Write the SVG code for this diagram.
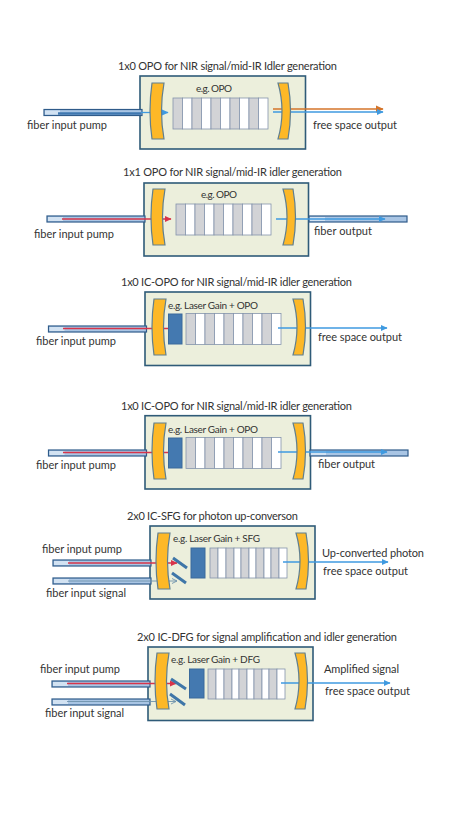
<svg xmlns="http://www.w3.org/2000/svg" width="457" height="824" viewBox="0 0 457 824">
<style>
text{font-family:"Lato","Open Sans","Liberation Sans",sans-serif;font-size:11px;fill:#333}
text.s{font-size:10px}
.box{fill:#ecefdc;stroke:#2f5b78;stroke-width:1.6}
.mir{fill:#fdb827;stroke:#5f7f90;stroke-width:1.2}
.gr{fill:#d2d3d6;stroke:#8494ac;stroke-width:.8}
.wh{fill:#fff;stroke:#8494ac;stroke-width:.8}
.gain{fill:#4479b0;stroke:#3a6a9c;stroke-width:1}
.fib{fill:#a9c5e4;stroke:#2f5b8a;stroke-width:1.2}
.fibl{fill:#d2e2f2}
.bs{stroke:#3f76a8;stroke-width:3;fill:none}
.b{stroke:#3f9ae0;stroke-width:1.3;fill:none}
.r{stroke:#d8344a;stroke-width:1.3;fill:none}
.o{stroke:#d4742a;stroke-width:1.4;fill:none}
.t{stroke:#6f93ad;stroke-width:.9;fill:none}
.band{stroke:#3f77b0;stroke-width:2.6;fill:none}
</style>
<defs>
<marker id="ab" markerWidth="6" markerHeight="6" refX="5" refY="3" orient="auto"><path d="M0 .5L5.500 3L0 5.500Z" fill="#3f9ae0"/></marker>
<marker id="ar" markerWidth="6" markerHeight="6" refX="5" refY="3" orient="auto"><path d="M0 .5L5.500 3L0 5.500Z" fill="#d8344a"/></marker>
<marker id="ao" markerWidth="6" markerHeight="6" refX="5" refY="3" orient="auto"><path d="M0 .5L5.500 3L0 5.500Z" fill="#d4742a"/></marker>
<marker id="at" markerWidth="8" markerHeight="8" refX="6" refY="4" orient="auto"><path d="M0 1L6 4L0 7" fill="none" stroke="#6f93ad"/></marker>
<path id="ml" class="mir" d="M2 0L14 0Q9 28 14 56L2 56Q-2 28 2 0Z"/>
<path id="mr" class="mir" d="M0 0L10 0Q15 28 10 56L0 56Q8 28 0 0Z"/>
<g id="x95">
<rect class="gr" x="0" width="9.500" height="31"/><rect class="wh" x="9.500" width="9.500" height="31"/>
<rect class="gr" x="19" width="9.500" height="31"/><rect class="wh" x="28.500" width="9.500" height="31"/>
<rect class="gr" x="38" width="9.500" height="31"/><rect class="wh" x="47.500" width="9.500" height="31"/>
<rect class="gr" x="57" width="9.500" height="31"/><rect class="wh" x="66.500" width="9.500" height="31"/>
<rect class="gr" x="76" width="9.500" height="31"/><rect class="wh" x="85.500" width="9.500" height="31"/>
</g>
<g id="x77">
<rect class="gr" x="0" width="8" height="30"/><rect class="wh" x="8" width="8" height="30"/>
<rect class="gr" x="16" width="8" height="30"/><rect class="wh" x="24" width="7" height="30"/>
<rect class="gr" x="31" width="8" height="30"/><rect class="wh" x="39" width="7" height="30"/>
<rect class="gr" x="46" width="8" height="30"/><rect class="wh" x="54" width="7" height="30"/>
<rect class="gr" x="61" width="8" height="30"/><rect class="wh" x="69" width="8" height="30"/>
</g>
<g id="fiber"><rect class="fib" width="98" height="6"/><rect class="fibl" x="1" y="1" width="15" height="4"/></g>
</defs>
<rect width="457" height="824" fill="#fff"/>

<g id="panel1">
<rect class="box" x="140" y="76" width="165.500" height="73"/>
<use href="#x95" x="173" y="98"/>
<use href="#fiber" x="44" y="109.500"/>
<text x="118" y="70" textLength="219">1x0 OPO for NIR signal/mid-IR Idler generation</text>
<text class="s" x="196" y="92" textLength="36">e.g. OPO</text>
<text x="27" y="129" textLength="80">fiber input pump</text>
<text x="313" y="129" textLength="84">free space output</text>
</g>

<g id="panel2">
<rect class="box" x="144" y="183" width="164.500" height="73"/>
<use href="#x95" x="176" y="204"/>
<use href="#fiber" x="47" y="216"/><use href="#fiber" x="309" y="216"/>
<text x="123" y="176" textLength="219">1x1 OPO for NIR signal/mid-IR idler generation</text>
<text class="s" x="201" y="198" textLength="36">e.g. OPO</text>
<text x="34" y="238" textLength="80">fiber input pump</text>
<text x="314" y="235" textLength="58">fiber output</text>
</g>

<g id="panel3">
<rect class="box" x="145" y="292" width="165.500" height="73.500"/>
<rect class="gain" x="168.500" y="314" width="13.500" height="30"/><use href="#x95" x="186" y="313.500"/>
<use href="#fiber" x="48.500" y="326"/>
<text x="121" y="286" textLength="231">1x0 IC-OPO for NIR signal/mid-IR idler generation</text>
<text class="s" x="168" y="309" textLength="90">e.g. Laser Gain + OPO</text>
<text x="36" y="345" textLength="80">fiber input pump</text>
<text x="318" y="341" textLength="84">free space output</text>
</g>

<g id="panel4">
<rect class="box" x="145" y="415.700" width="165.500" height="73.300"/>
<rect class="gain" x="168.500" y="438" width="13.500" height="30"/><use href="#x95" x="186" y="437.500"/>
<use href="#fiber" x="48.500" y="450"/><use href="#fiber" x="310" y="450"/>
<text x="121" y="410" textLength="231">1x0 IC-OPO for NIR signal/mid-IR idler generation</text>
<text class="s" x="168" y="433" textLength="90">e.g. Laser Gain + OPO</text>
<text x="36" y="469" textLength="80">fiber input pump</text>
<text x="318" y="468" textLength="57">fiber output</text>
</g>

<g id="panel5">
<rect class="box" x="150" y="526" width="165" height="73"/>
<rect class="gain" x="191" y="548" width="14" height="30"/><use href="#x77" x="210" y="548"/>
<use href="#fiber" x="53" y="560"/><use href="#fiber" x="53" y="578"/>
<text x="127" y="520" textLength="171">2x0 IC-SFG for photon up-converson</text>
<text class="s" x="173" y="542" textLength="87">e.g. Laser Gain + SFG</text>
<text x="42" y="553" textLength="80">fiber input pump</text>
<text x="46" y="597" textLength="80">fiber input signal</text>
<text x="322" y="557" textLength="102">Up-converted photon</text>
<text x="323" y="575" textLength="85">free space output</text>
</g>

<g id="panel6">
<rect class="box" x="148" y="647" width="165" height="73.500"/>
<rect class="gain" x="189.500" y="669" width="14.500" height="29"/><use href="#x77" x="208" y="669"/>
<use href="#fiber" x="52" y="681"/><use href="#fiber" x="52" y="699"/>
<text x="137" y="641" textLength="260">2x0 IC-DFG for signal amplification and idler generation</text>
<text class="s" x="171" y="663" textLength="89">e.g. Laser Gain + DFG</text>
<text x="40" y="673" textLength="80">fiber input pump</text>
<text x="45" y="717" textLength="79">fiber input signal</text>
<text x="324" y="673" textLength="75">Amplified signal</text>
<text x="325" y="695" textLength="85">free space output</text>
</g>

<g id="connectors">
<path class="band" d="M58 113.500H141"/>
<path class="b" d="M141 112.500H168" marker-end="url(#ab)"/>
<path class="o" d="M273 109H383" marker-end="url(#ao)"/>
<path class="b" d="M273 112H383" marker-end="url(#ab)"/>
<path class="r" d="M62 219H171" marker-end="url(#ar)"/>
<path class="b" d="M276 219H385" marker-end="url(#ab)"/>
<path class="r" d="M63 328.500H168"/>
<path class="b" d="M278 328H387" marker-end="url(#ab)"/>
<path class="r" d="M63 452.500H168"/>
<path class="b" d="M278 452H387" marker-end="url(#ab)"/>
<path class="r" d="M68 563H177" marker-end="url(#ar)"/>
<path class="t" d="M68 581H177" marker-end="url(#at)"/>
<path class="b" d="M283 562H388" marker-end="url(#ab)"/>
<path class="r" d="M67 683.500H176" marker-end="url(#ar)"/>
<path class="t" d="M67 701.500H176" marker-end="url(#at)"/>
<path class="b" d="M281 683H390" marker-end="url(#ab)"/>
</g>

<g id="mirrors">
<use href="#ml" x="150" y="83"/><use href="#mr" x="278" y="83"/>
<use href="#ml" x="151" y="189"/><use href="#mr" x="283" y="189"/>
<use href="#ml" x="152" y="299"/><use href="#mr" x="293" y="299"/>
<use href="#ml" x="152" y="423"/><use href="#mr" x="293" y="423"/>
<use href="#ml" x="156" y="533"/><use href="#mr" x="296" y="533"/>
<use href="#ml" x="155" y="653"/><use href="#mr" x="295" y="653"/>
<path class="bs" d="M173 558L187 568M172 573L186 583"/>
<path class="bs" d="M171 679L186 689M170 694L185 705"/>
</g>
</svg>
